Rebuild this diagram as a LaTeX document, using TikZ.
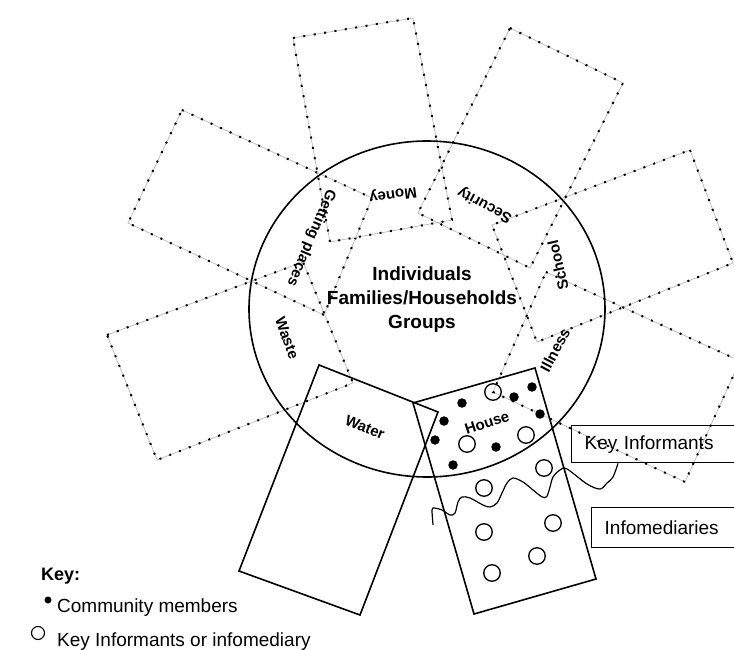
\documentclass[tikz,border=0pt]{standalone}
\usepackage{fontspec}
\setmainfont{Liberation Sans}
\usetikzlibrary{calc}
\begin{document}
\begin{tikzpicture}[x=1pt,y=-1pt,
  solidline/.style={draw=black, line width=1.6pt, line join=miter},
  dotrect/.style={draw=gray!55, line width=0.7pt,
     postaction={draw=black, line width=2pt, dash pattern=on 2pt off 8.5pt}},
  lbl/.style={font=\fontsize{15}{17}\selectfont\bfseries, inner sep=0pt},
  mainlbl/.style={font=\fontsize{19}{24}\selectfont\bfseries, align=center, inner sep=0pt},
  infobox/.style={draw=black, line width=1.4pt, anchor=north west, inner xsep=13pt,
     text width=150pt, align=left, font=\fontsize{19}{22}\selectfont},
  legendtxt/.style={font=\fontsize{19}{22}\selectfont, inner sep=0pt, anchor=base west},
  member/.style={circle, fill=black, inner sep=0pt, minimum size=9.5pt},
  informant/.style={circle, draw=black, line width=1.3pt, inner sep=0pt, minimum size=16.5pt}]
\useasboundingbox (0,0) rectangle (734,650);

% dotted petals
\draw[dotrect] (182,110) -- (372,198) -- (324,315) -- (128,223) -- cycle; % getting places
\draw[dotrect] (293,38) -- (413,18) -- (452,220) -- (330,242) -- cycle;   % money
\draw[dotrect] (510,28) -- (623,83) -- (530,268) -- (418,213) -- cycle;   % security
\draw[dotrect] (690,150) -- (733,263) -- (537,342) -- (492,225) -- cycle; % school
\draw[dotrect] (546,272) -- (740,361) -- (685,482) -- (493,392) -- cycle; % illness
\draw[dotrect] (107,335) -- (303,262) -- (353,383) -- (157,460) -- cycle; % waste

% central circle
\draw[solidline] (427,309) ellipse [x radius=178pt, y radius=168pt];

% solid petals
\draw[solidline] (319,365) -- (438,412) -- (360,615) -- (239,571) -- cycle; % water
\draw[solidline] (413,403) -- (535,368) -- (596,579) -- (474,614) -- cycle; % house

% labels
\node[mainlbl] (groups) at (422,300) {Individuals\\Families/Households\\Groups};
\node[lbl, rotate=188] (money) at (393,194) {Money};
\node[lbl, rotate=152] (security) at (485,205) {Security};
\node[lbl, rotate=-113] (getting) at (311,238) {Getting places};
\node[lbl, rotate=103] (school) at (558,265) {School};
\node[lbl, rotate=62] (illness) at (555,350) {Illness};
\node[lbl, rotate=-70] (waste) at (287,338) {Waste};
\node[lbl, rotate=-22] (water) at (365,427) {Water};
\node[lbl, rotate=18] (house) at (487,423) {House};

% community members
\node[member] (m1) at (462,403) {};
\node[member] (m2) at (444,421) {};
\node[member] (m3) at (435,440) {};
\node[member] (m4) at (453,465) {};
\node[member] (m5) at (496,447) {};
\node[member] (m6) at (514,397) {};
\node[member] (m7) at (532,387) {};
\node[member] (m8) at (540,414) {};

% key informants / infomediaries
\node[informant] (i1) at (493,392) {};
\node[informant] (i2) at (467,444) {};
\node[informant] (i3) at (526,435) {};
\node[informant] (i4) at (544,468) {};
\node[informant] (i5) at (484,488) {};
\node[informant] (i6) at (553,523) {};
\node[informant] (i7) at (484,532) {};
\node[informant] (i8) at (537,556) {};
\node[informant] (i9) at (492,573) {};

% boxes
\node[infobox, minimum height=37pt] (kibox) at (571,425) {Key Informants};
\node[infobox, minimum height=40pt] (infobox) at (591,507) {Infomediaries};

% wavy boundary
\coordinate (wavestart) at ($(kibox.south west)+(47,0)$);
\coordinate (waveend) at (433,525);
\draw[black, line width=1.2pt] plot[smooth, tension=0.55] coordinates {(wavestart) (613,477) (607,483) (600,489) (587,484) (567,469) (560,470) (553,477) (550,487) (546.7,496.7) (541.7,496.7) (533,490) (523,482) (513,478) (507,483) (502,493) (497,503) (490,507) (483,505) (470,498) (462,497) (458,502) (455,513) (450,515) (442,510) (433,508) (432,512)} -- (waveend);

% key
\node[font=\fontsize{18}{20}\selectfont\bfseries, anchor=base west, inner sep=0pt] (key) at (41,580) {Key:};
\node[member, minimum size=7pt] (kmember) at (48,600) {};
\node[legendtxt] (cmtext) at (57,612) {Community members};
\node[informant, minimum size=13pt, line width=1.1pt] (kinform) at (38,633) {};
\node[legendtxt] (kitext) at (57,646) {Key Informants or infomediary};
\end{tikzpicture}
\end{document}
